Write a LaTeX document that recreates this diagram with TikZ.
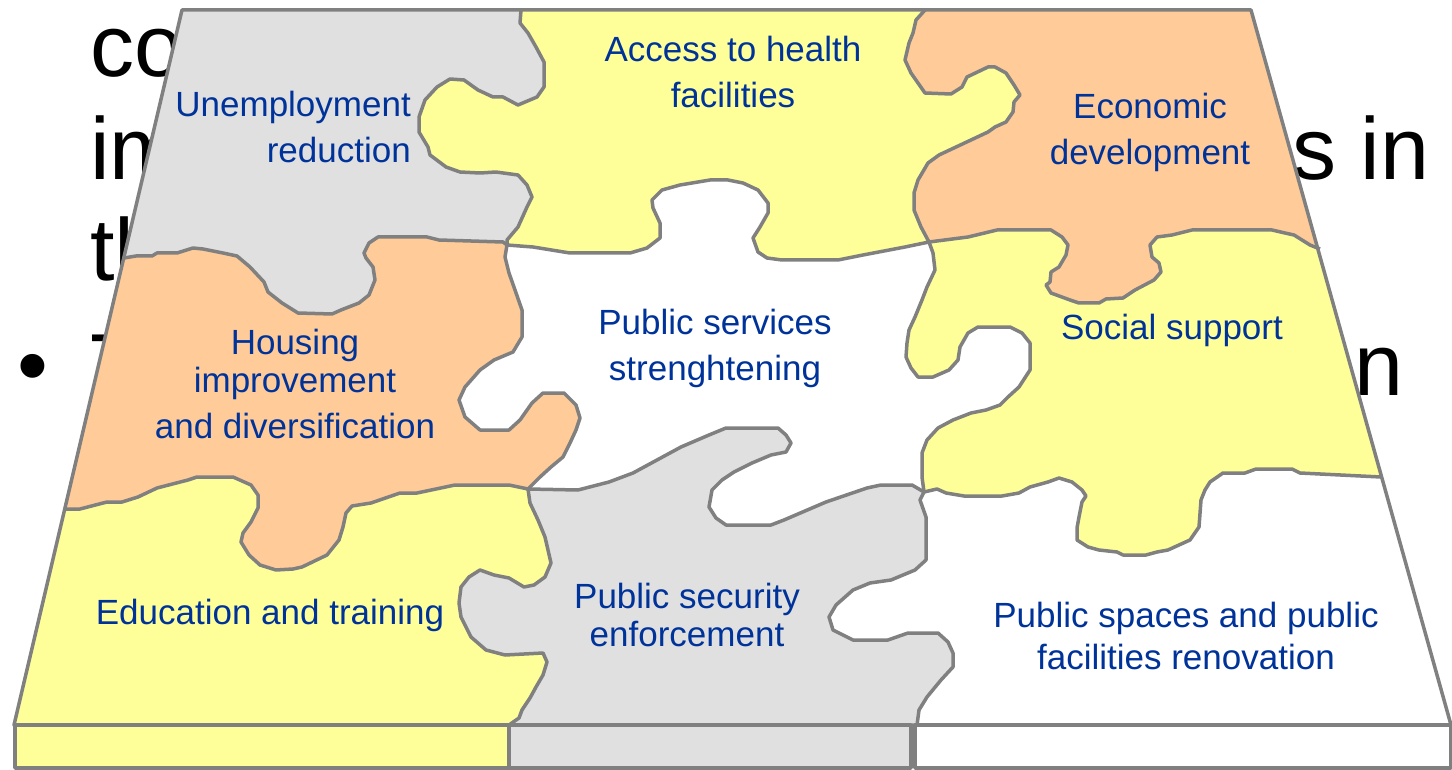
\documentclass[tikz,border=0pt]{standalone}
\usepackage{fontspec}
\setmainfont{Liberation Sans}
\usepackage{tikz}

\definecolor{pzyellow}{HTML}{FFFF99}
\definecolor{pzorange}{HTML}{FFCC99}
\definecolor{pzgray}{HTML}{E0E0E0}
\definecolor{pzline}{HTML}{808080}
\definecolor{pztext}{HTML}{003399}

\begin{document}
\begin{tikzpicture}[x=1pt,y=-1pt]
\tikzstyle{seam}=[draw=pzline,line width=3.5pt,line join=round]
\tikzstyle{piecetext}=[text=pztext,font=\fontsize{35}{46}\selectfont,align=center,inner sep=0pt,anchor=base]
\tikzstyle{bgtext}=[font=\fontsize{88}{100}\selectfont,inner sep=0pt,anchor=base west]
\useasboundingbox (0,0) rectangle (1452,770);

% slide text behind the puzzle
\node[bgtext] (co) at (90,77) {co};
\node[bgtext] (im) at (90,180) {im};
\node[bgtext] (th) at (90,280) {th};
\node[bgtext] (bullet) at (17,395) {•};
\node[bgtext] (tt) at (90,395) {T};
\node[bgtext] (sin) at (1292,180) {s in};
\node[bgtext] (nn) at (1354,395) {n};

% outline and cuts
\def\trap{(182,10) -- (1251,10) -- (1451,725) -- (14,725) -- cycle}
\def\honein{(124,258) -- (136,256) -- (152,256) -- (157,253) -- (177,253) -- (193,248) -- (203,249) -- (223,253)
  -- (237,256) -- (250,267) -- (264,282) -- (268,292) -- (282,303) -- (298,313) -- (332,314) -- (341,310)
  -- (359,303) -- (369,295) -- (375,280) -- (373,267) -- (366,258) -- (364,253) -- (369,243) -- (378,237)
  -- (427,237) -- (439,240) -- (503,242) -- (507,245)
  -- (533,247) -- (570,253) -- (630,253) -- (647,248) -- (660,238) -- (660,223) -- (653,208) -- (652,200)
  -- (662,190) -- (680,185) -- (710,180) -- (728,180) -- (743,183) -- (758,190) -- (768,203) -- (768,213)
  -- (760,227) -- (753,238) -- (758,252) -- (767,258) -- (782,260) -- (838,260) -- (863,255) -- (905,247) -- (929,242)
  -- (968,237) -- (997,230) -- (1051,230) -- (1062,237) -- (1068,245) -- (1066,255) -- (1059,267) -- (1051,272)
  -- (1050,282) -- (1046,285) -- (1051,293) -- (1070,300) -- (1079,303) -- (1099,303) -- (1106,299) -- (1123,298)
  -- (1135,290) -- (1154,280) -- (1161,272) -- (1159,263) -- (1152,257) -- (1150,245) -- (1157,237) -- (1172,235)
  -- (1192,230) -- (1272,230) -- (1285,233) -- (1294,235) -- (1310,245) -- (1320,249)}
\def\htwoin{(65,509) -- (80,509) -- (107,502) -- (122,502) -- (138,497) -- (157,488) -- (188,480) -- (197,477)
  -- (233,477) -- (251,485) -- (258,495) -- (258,508) -- (251,522) -- (243,533) -- (241,542) -- (249,555)
  -- (260,565) -- (276,570) -- (293,569) -- (302,567) -- (327,555) -- (339,540) -- (343,527) -- (346,513)
  -- (352,506) -- (371,503) -- (400,493) -- (417,493) -- (455,485) -- (509,485) -- (528,489)
  -- (578,490) -- (609,482) -- (633,473) -- (657,460) -- (681,447) -- (709,435) -- (726,428) -- (778,428)
  -- (786,435) -- (791,443) -- (786,452) -- (771,455) -- (752,463) -- (734,472) -- (722,480) -- (712,490)
  -- (709,507) -- (716,518) -- (726,525) -- (771,525) -- (784,520) -- (826,502) -- (867,488) -- (881,485)
  -- (912,485) -- (924,492)
  -- (937,489) -- (946,493) -- (964,496) -- (1002,496) -- (1019,493) -- (1030,487) -- (1048,482) -- (1059,478)
  -- (1072,482) -- (1082,490) -- (1086,496) -- (1082,502) -- (1079,517) -- (1077,528) -- (1077,540) -- (1088,547)
  -- (1099,550) -- (1117,552) -- (1123,555) -- (1146,555) -- (1157,552) -- (1168,550) -- (1190,540) -- (1199,527)
  -- (1201,500) -- (1205,490) -- (1210,482) -- (1223,473) -- (1245,473) -- (1256,469) -- (1292,469) -- (1300,473)
  -- (1381,477)}
\def\vonein{(521,10) -- (520,23) -- (528,33) -- (536,47) -- (544,62) -- (544,87) -- (537,97) -- (518,105)
  -- (503,97) -- (493,97) -- (478,90) -- (464,80) -- (450,79) -- (437,87) -- (425,100) -- (419,117) -- (419,132)
  -- (428,147) -- (430,155) -- (446,167) -- (460,172) -- (480,173) -- (496,172) -- (518,175) -- (527,185)
  -- (532,197) -- (527,207) -- (518,227) -- (507,240) -- (507,245)
  -- (505,257) -- (509,273) -- (515,290) -- (522,310) -- (522,337) -- (513,352) -- (494,360) -- (480,370)
  -- (465,387) -- (459,400) -- (465,417) -- (480,430) -- (509,430) -- (520,420) -- (532,403) -- (543,393)
  -- (564,393) -- (576,405) -- (580,418) -- (576,430) -- (570,443) -- (563,457) -- (551,467) -- (540,477) -- (528,489)
  -- (530,503) -- (538,520) -- (545,537) -- (551,563) -- (545,577) -- (534,585) -- (524,587) -- (509,578)
  -- (494,575) -- (480,570) -- (469,577) -- (461,587) -- (459,603) -- (461,617) -- (471,637) -- (486,650)
  -- (505,655) -- (543,653) -- (547,662) -- (543,675) -- (536,687) -- (530,698) -- (522,710) -- (519,718) -- (509,725)}
\def\vtwoin{(925,10) -- (916,20) -- (913,33) -- (909,43) -- (905,60) -- (911,73) -- (918,83) -- (925,93)
  -- (951,94) -- (962,87) -- (967,77) -- (988,67) -- (995,67) -- (1006,73) -- (1014,85) -- (1020,95) -- (1014,102)
  -- (1013,112) -- (1006,122) -- (995,127) -- (988,132) -- (939,155) -- (928,163) -- (918,180) -- (914,193)
  -- (914,210) -- (921,227) -- (929,242)
  -- (933,253) -- (935,270) -- (927,287) -- (922,300) -- (915,317) -- (909,330) -- (907,343) -- (906,357)
  -- (911,368) -- (918,377) -- (933,377) -- (949,370) -- (958,360) -- (960,347) -- (968,333) -- (978,327)
  -- (1010,327) -- (1022,333) -- (1030,343) -- (1030,370) -- (1019,387) -- (1008,397) -- (1000,405) -- (986,410)
  -- (971,413) -- (953,420) -- (938,428) -- (927,440) -- (922,453) -- (922,477) -- (924,492)
  -- (920,500) -- (926,517) -- (926,560) -- (915,570) -- (891,580) -- (870,583) -- (853,590) -- (836,605)
  -- (829,617) -- (833,630) -- (853,640) -- (888,640) -- (908,633) -- (938,633) -- (948,642) -- (953,653)
  -- (953,667) -- (941,680) -- (927,697) -- (919,710) -- (917,725)}

\fill[white] \trap;

% top row
\begin{scope}
\clip \trap;
\clip \honein -- (1520,249) -- (1520,-60) -- (-60,-60) -- (-60,258) -- cycle;
\clip \vonein -- (509,900) -- (-60,900) -- (-60,-60) -- (521,-60) -- cycle;
\fill[pzgray] (-60,-60) rectangle (1520,900);
\end{scope}
\begin{scope}
\clip \trap;
\clip \honein -- (1520,249) -- (1520,-60) -- (-60,-60) -- (-60,258) -- cycle;
\clip \vonein -- (509,900) -- (1520,900) -- (1520,-60) -- (521,-60) -- cycle;
\clip \vtwoin -- (917,900) -- (-60,900) -- (-60,-60) -- (925,-60) -- cycle;
\fill[pzyellow] (-60,-60) rectangle (1520,900);
\end{scope}
\begin{scope}
\clip \trap;
\clip \honein -- (1520,249) -- (1520,-60) -- (-60,-60) -- (-60,258) -- cycle;
\clip \vtwoin -- (917,900) -- (1520,900) -- (1520,-60) -- (925,-60) -- cycle;
\fill[pzorange] (-60,-60) rectangle (1520,900);
\end{scope}

% middle row
\begin{scope}
\clip \trap;
\clip \honein -- (1520,249) -- (1520,900) -- (-60,900) -- (-60,258) -- cycle;
\clip \htwoin -- (1520,477) -- (1520,-60) -- (-60,-60) -- (-60,509) -- cycle;
\clip \vonein -- (509,900) -- (-60,900) -- (-60,-60) -- (521,-60) -- cycle;
\fill[pzorange] (-60,-60) rectangle (1520,900);
\end{scope}
\begin{scope}
\clip \trap;
\clip \honein -- (1520,249) -- (1520,900) -- (-60,900) -- (-60,258) -- cycle;
\clip \htwoin -- (1520,477) -- (1520,-60) -- (-60,-60) -- (-60,509) -- cycle;
\clip \vtwoin -- (917,900) -- (1520,900) -- (1520,-60) -- (925,-60) -- cycle;
\fill[pzyellow] (-60,-60) rectangle (1520,900);
\end{scope}

% bottom row
\begin{scope}
\clip \trap;
\clip \htwoin -- (1520,477) -- (1520,900) -- (-60,900) -- (-60,509) -- cycle;
\clip \vonein -- (509,900) -- (-60,900) -- (-60,-60) -- (521,-60) -- cycle;
\fill[pzyellow] (-60,-60) rectangle (1520,900);
\end{scope}
\begin{scope}
\clip \trap;
\clip \htwoin -- (1520,477) -- (1520,900) -- (-60,900) -- (-60,509) -- cycle;
\clip \vonein -- (509,900) -- (1520,900) -- (1520,-60) -- (521,-60) -- cycle;
\clip \vtwoin -- (917,900) -- (-60,900) -- (-60,-60) -- (925,-60) -- cycle;
\fill[pzgray] (-60,-60) rectangle (1520,900);
\end{scope}

\draw[seam] \honein;
\draw[seam] \htwoin;
\draw[seam] \vonein;
\draw[seam] \vtwoin;
\draw[seam] \trap;

% front edge
\draw[seam,fill=pzyellow] (15,725) rectangle (509,768);
\draw[seam,fill=pzgray] (509,725) rectangle (911,768);
\draw[seam,fill=white] (915,725) rectangle (1451,768);

\node[piecetext,align=right,anchor=base east] (unemp) at (411,163) {Unemployment\\reduction};
\node[piecetext] (access) at (733,108) {Access to health\\facilities};
\node[piecetext] (econ) at (1150,165) {Economic\\development};
\node[piecetext] (housing) at (295,438) {Housing\\[-8pt]improvement\\and diversification};
\node[piecetext] (services) at (715,380) {Public services\\strenghtening};
\node[piecetext] (social) at (1172,339) {Social support};
\node[piecetext] (edu) at (270,624) {Education and training};
\node[piecetext] (security) at (687,646) {Public security\\[-8pt]enforcement};
\node[piecetext] (spaces) at (1186,669) {Public spaces and public\\[-4pt]facilities renovation};
\end{tikzpicture}
\end{document}
